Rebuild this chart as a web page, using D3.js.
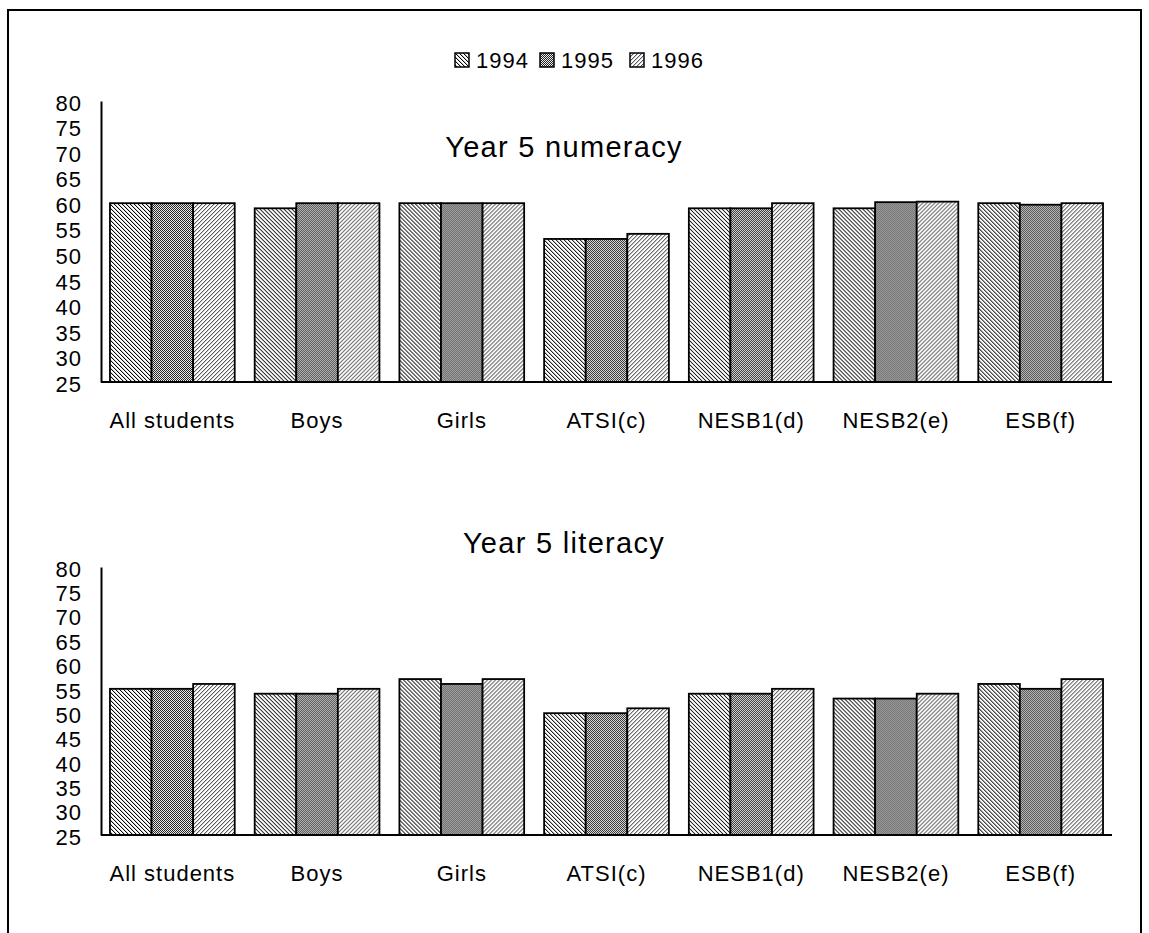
<!DOCTYPE html>
<html lang="en">
<head>
	<meta charset="utf-8"/>
	<title>Year 5 numeracy and literacy</title>
	<script src="https://d3js.org/d3.v7.min.js"></script>
	<style>
	body { margin: 0; background: #fff; }
	text { font-family: "Liberation Sans", Arial, sans-serif; fill: #000; }
	.axis .domain { stroke: #000; stroke-width: 2px; }
	.bar { stroke: #000; stroke-width: 1.8px; }
	.lbl { font-size: 22px; letter-spacing: 1px; }
	</style>
</head>
<body>
<svg id="chart" width="1149" height="933"></svg>

<script>
// categories and series
var categories = ["All students", "Boys", "Girls", "ATSI(c)", "NESB1(d)", "NESB2(e)", "ESB(f)"];
var years = ["1994", "1995", "1996"];

var numeracy1994 = [60, 59, 60, 53, 59, 59, 60];
var numeracy1995 = [60, 60, 60, 53, 59, 60.2, 59.7];
var numeracy1996 = [60, 60, 60, 54, 60, 60.3, 60];

var literacy1994 = [55, 54, 57, 50, 54, 53, 56];
var literacy1995 = [55, 54, 56, 50, 54, 53, 55];
var literacy1996 = [56, 55, 57, 51, 55, 54, 57];

var yTicks = [25, 30, 35, 40, 45, 50, 55, 60, 65, 70, 75, 80];

var svg = d3.select("#chart");

// hatch patterns, one per year (pixel cells on a small tile)
var defs = svg.append("defs");
function pattern(id, size, bg, cells) {
	var p = defs.append("pattern")
		.attr("id", id)
		.attr("patternUnits", "userSpaceOnUse")
		.attr("width", size)
		.attr("height", size);
	p.append("rect").attr("width", size).attr("height", size).attr("fill", bg);
	cells.forEach(function(c) {
		p.append("rect").attr("x", c[0]).attr("y", c[1]).attr("width", 1).attr("height", 1).attr("fill", c[2]);
	});
}
// 1994: "\" lines
pattern("p1994", 4, "#fff", [[0,0,"#000"],[1,1,"#000"],[2,2,"#000"],[3,3,"#000"],
	[1,0,"#ccc"],[2,1,"#ccc"],[3,2,"#ccc"],[0,3,"#ccc"]]);
// 1995: dotted checker
pattern("p1995", 2, "#eee", [[0,0,"#222"],[1,1,"#222"]]);
// 1996: grey "/" lines
pattern("p1996", 4, "#fff", [[3,0,"#555"],[2,1,"#555"],[1,2,"#555"],[0,3,"#555"],
	[0,0,"#ccc"],[3,1,"#ccc"],[2,2,"#ccc"],[1,3,"#ccc"]]);

var fills = {"1994": "url(#p1994)", "1995": "url(#p1995)", "1996": "url(#p1996)"};

// outer frame
svg.append("rect")
	.attr("x", 8).attr("y", 10)
	.attr("width", 1133).attr("height", 1000)
	.attr("fill", "none").attr("stroke", "#000").attr("stroke-width", 2);

// legend
var legendX = {"1994": 455, "1995": 540, "1996": 630};
var legend = svg.append("g").selectAll("g")
	.data(years)
	.enter().append("g")
	.attr("transform", function(d) { return "translate(" + legendX[d] + ",53)"; });
legend.append("rect")
	.attr("width", 14).attr("height", 14)
	.attr("fill", function(d) { return fills[d]; })
	.attr("stroke", "#000").attr("stroke-width", 1.5);
legend.append("text")
	.attr("class", "lbl")
	.attr("x", 21).attr("y", 7).attr("dy", "0.36em")
	.text(function(d) { return d; });

function drawPanel(title, series, top, bottom, titleY) {
	var x0 = d3.scaleBand()
		.domain(categories)
		.range([101, 1112])
		.paddingInner(0.138)
		.paddingOuter(0.062);
	var x1 = d3.scaleBand()
		.domain(years)
		.range([0, x0.bandwidth()]);
	var y = d3.scaleLinear()
		.domain([25, 80])
		.range([bottom, top]);

	var g = svg.append("g");

	var groups = g.append("g").selectAll("g")
		.data(categories)
		.enter().append("g")
		.attr("transform", function(d) { return "translate(" + x0(d) + ",0)"; });

	groups.selectAll("rect")
		.data(function(d, i) { return years.map(function(yr) { return {year: yr, value: series[yr][i]}; }); })
		.enter().append("rect")
		.attr("class", "bar")
		.attr("x", function(d) { return x1(d.year); })
		.attr("y", function(d) { return y(d.value); })
		.attr("width", x1.bandwidth())
		.attr("height", function(d) { return y(25) - y(d.value); })
		.attr("fill", function(d) { return fills[d.year]; });

	// y axis
	var ya = g.append("g")
		.attr("class", "axis")
		.attr("transform", "translate(101,0)")
		.call(d3.axisLeft(y).tickValues(yTicks).tickSize(0).tickPadding(19));
	ya.attr("font-size", null).attr("font-family", null);
	ya.selectAll("text")
		.attr("class", "lbl")
		.attr("dy", "0.42em");

	// category axis
	var xa = g.append("g")
		.attr("class", "axis")
		.attr("transform", "translate(0," + y(25) + ")")
		.call(d3.axisBottom(x0).tickSize(0).tickPadding(30));
	xa.attr("font-size", null).attr("font-family", null);
	xa.select(".domain").attr("d", "M101,0H1112");
	xa.selectAll("text")
		.attr("class", "lbl");

	g.append("text")
		.attr("x", 564).attr("y", titleY)
		.attr("text-anchor", "middle")
		.attr("dy", "0.36em")
		.style("font-size", "29px")
		.style("letter-spacing", "1.3px")
		.text(title);
}

drawPanel("Year 5 numeracy",
	{"1994": numeracy1994, "1995": numeracy1995, "1996": numeracy1996},
	101, 382, 147);
drawPanel("Year 5 literacy",
	{"1994": literacy1994, "1995": literacy1995, "1996": literacy1996},
	567, 835, 543);
</script>
</body>
</html>
